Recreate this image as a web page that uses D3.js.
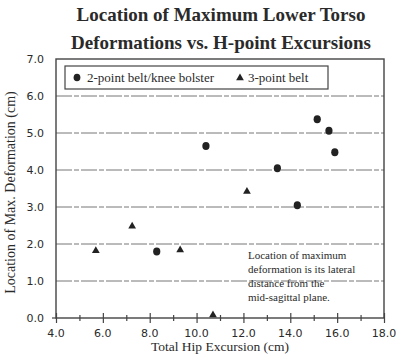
<!DOCTYPE html>
<html>
<head>
<meta charset="utf-8">
<script src="https://cdn.jsdelivr.net/npm/d3@7"></script>
<style>
  body { margin: 0; background: #fff; }
  svg { display: block; }
</style>
</head>
<body>
<div id="chart"></div>
<script>
// data
const titleLines = ['Location of Maximum Lower Torso', 'Deformations vs. H-point Excursions'];
const twoPointX = [8.3, 10.4, 13.45, 14.3, 15.15, 15.65, 15.9];
const twoPointY = [1.8, 4.65, 4.05, 3.05, 5.37, 5.06, 4.48];
const threePointX = [5.7, 7.25, 9.3, 10.7, 12.15];
const threePointY = [1.82, 2.48, 1.84, 0.08, 3.42];
const xTicks = [4, 6, 8, 10, 12, 14, 16, 18];
const xMinorTicks = [5, 7, 9, 11, 13, 15, 17];
const yTicks = [0, 1, 2, 3, 4, 5, 6, 7];
const noteLines = ['Location of maximum', 'deformation is its lateral', 'distance from the', 'mid-sagittal plane.'];

const width = 396, height = 358;
const margin = { top: 59, right: 12, bottom: 40, left: 56 };

const svg = d3.select('#chart')
    .append('svg')
    .attr('width', width)
    .attr('height', height);

const x = d3.scaleLinear().domain([4, 18]).range([margin.left, width - margin.right]);
const y = d3.scaleLinear().domain([0, 7]).range([height - margin.bottom, margin.top]);

const ink = '#2a2a2a';
const serif = '"Liberation Serif", "DejaVu Serif", serif';
const sans = '"DejaVu Sans", sans-serif';

// title
svg.append('g')
    .selectAll('text')
    .data(titleLines)
    .enter()
    .append('text')
    .attr('x', 221)
    .attr('y', (d, i) => 21 + i * 28)
    .attr('text-anchor', 'middle')
    .style('font-family', serif)
    .style('font-weight', 'bold')
    .style('font-size', '19px')
    .style('fill', ink)
    .text(d => d);

// dashed gridlines
svg.append('g')
    .selectAll('line')
    .data(yTicks.filter(d => d > 0 && d < 7))
    .enter()
    .append('line')
    .attr('x1', x(4))
    .attr('x2', x(18))
    .attr('y1', d => y(d))
    .attr('y2', d => y(d))
    .attr('stroke', '#777')
    .attr('stroke-width', 1)
    .attr('stroke-dasharray', '16,2,5,2');

// frame
svg.append('rect')
    .attr('x', x(4))
    .attr('y', y(7))
    .attr('width', x(18) - x(4))
    .attr('height', y(0) - y(7))
    .attr('fill', 'none')
    .attr('stroke', '#444')
    .attr('stroke-width', 1.4);

// x axis ticks (cross the axis line)
const xAxisMajor = d3.axisBottom(x).tickValues(xTicks).tickSize(5).tickFormat('');
const xAxisMinor = d3.axisBottom(x).tickValues(xMinorTicks).tickSize(3).tickFormat('');
[[xAxisMajor, 5], [xAxisMinor, 3]].forEach(([ax, s]) => {
    const g = svg.append('g')
        .attr('transform', `translate(0,${y(0) - s})`)
        .call(ax);
    g.select('.domain').remove();
    g.selectAll('line').attr('y2', 2 * s).attr('stroke', '#444').attr('stroke-width', 1.2);
});

// x tick labels
svg.append('g')
    .selectAll('text')
    .data(xTicks)
    .enter()
    .append('text')
    .attr('x', d => x(d))
    .attr('y', 337)
    .attr('text-anchor', 'middle')
    .style('font-family', sans)
    .style('font-size', '11px')
    .style('fill', ink)
    .text(d => d.toFixed(1));

// y tick labels
svg.append('g')
    .selectAll('text')
    .data(yTicks)
    .enter()
    .append('text')
    .attr('x', 44)
    .attr('y', d => y(d) + 4)
    .attr('text-anchor', 'end')
    .style('font-family', sans)
    .style('font-size', '11px')
    .style('fill', ink)
    .text(d => d.toFixed(1));

// small tick left of the origin
svg.append('line')
    .attr('x1', x(4) - 4).attr('x2', x(4))
    .attr('y1', y(0)).attr('y2', y(0))
    .attr('stroke', '#444').attr('stroke-width', 1.2);

// axis titles
svg.append('text')
    .attr('x', 220)
    .attr('y', 351)
    .attr('text-anchor', 'middle')
    .style('font-family', serif)
    .style('font-size', '13.5px')
    .style('fill', ink)
    .text('Total Hip Excursion (cm)');

svg.append('text')
    .attr('transform', `translate(15,${(y(0) + y(7)) / 2 + 4}) rotate(-90)`)
    .attr('text-anchor', 'middle')
    .style('font-family', serif)
    .style('font-size', '14px')
    .style('fill', ink)
    .text('Location of Max. Deformation (cm)');

// points
const triangle = d3.symbol().type(d3.symbolTriangle).size(26);
const twoPoint = twoPointX.map((d, i) => ({ x: d, y: twoPointY[i] }));
const threePoint = threePointX.map((d, i) => ({ x: d, y: threePointY[i] }));

svg.append('g')
    .selectAll('ellipse')
    .data(twoPoint)
    .enter()
    .append('ellipse')
    .attr('cx', d => x(d.x))
    .attr('cy', d => y(d.y))
    .attr('rx', 3.6)
    .attr('ry', 4)
    .attr('fill', '#222');

svg.append('g')
    .selectAll('path')
    .data(threePoint)
    .enter()
    .append('path')
    .attr('transform', d => `translate(${x(d.x)},${y(d.y)})`)
    .attr('d', triangle)
    .attr('fill', '#222');

// legend
const legend = svg.append('g');
legend.append('rect')
    .attr('x', 65).attr('y', 66)
    .attr('width', 263).attr('height', 23)
    .attr('fill', '#fff')
    .attr('stroke', '#444')
    .attr('stroke-width', 1.2);
legend.append('ellipse')
    .attr('cx', 77).attr('cy', 77.5)
    .attr('rx', 3.4).attr('ry', 3.8)
    .attr('fill', '#222');
legend.append('text')
    .attr('x', 87).attr('y', 82)
    .style('font-family', serif)
    .style('font-size', '13px')
    .style('fill', ink)
    .text('2-point belt/knee bolster');
legend.append('path')
    .attr('transform', 'translate(240,78)')
    .attr('d', triangle)
    .attr('fill', '#222');
legend.append('text')
    .attr('x', 248).attr('y', 82)
    .style('font-family', serif)
    .style('font-size', '13px')
    .style('fill', ink)
    .text('3-point belt');

// note
svg.append('g')
    .selectAll('text')
    .data(noteLines)
    .enter()
    .append('text')
    .attr('x', 248)
    .attr('y', (d, i) => 259 + i * 14)
    .style('font-family', serif)
    .style('font-size', '11px')
    .style('fill', ink)
    .text(d => d);
</script>
</body>
</html>
